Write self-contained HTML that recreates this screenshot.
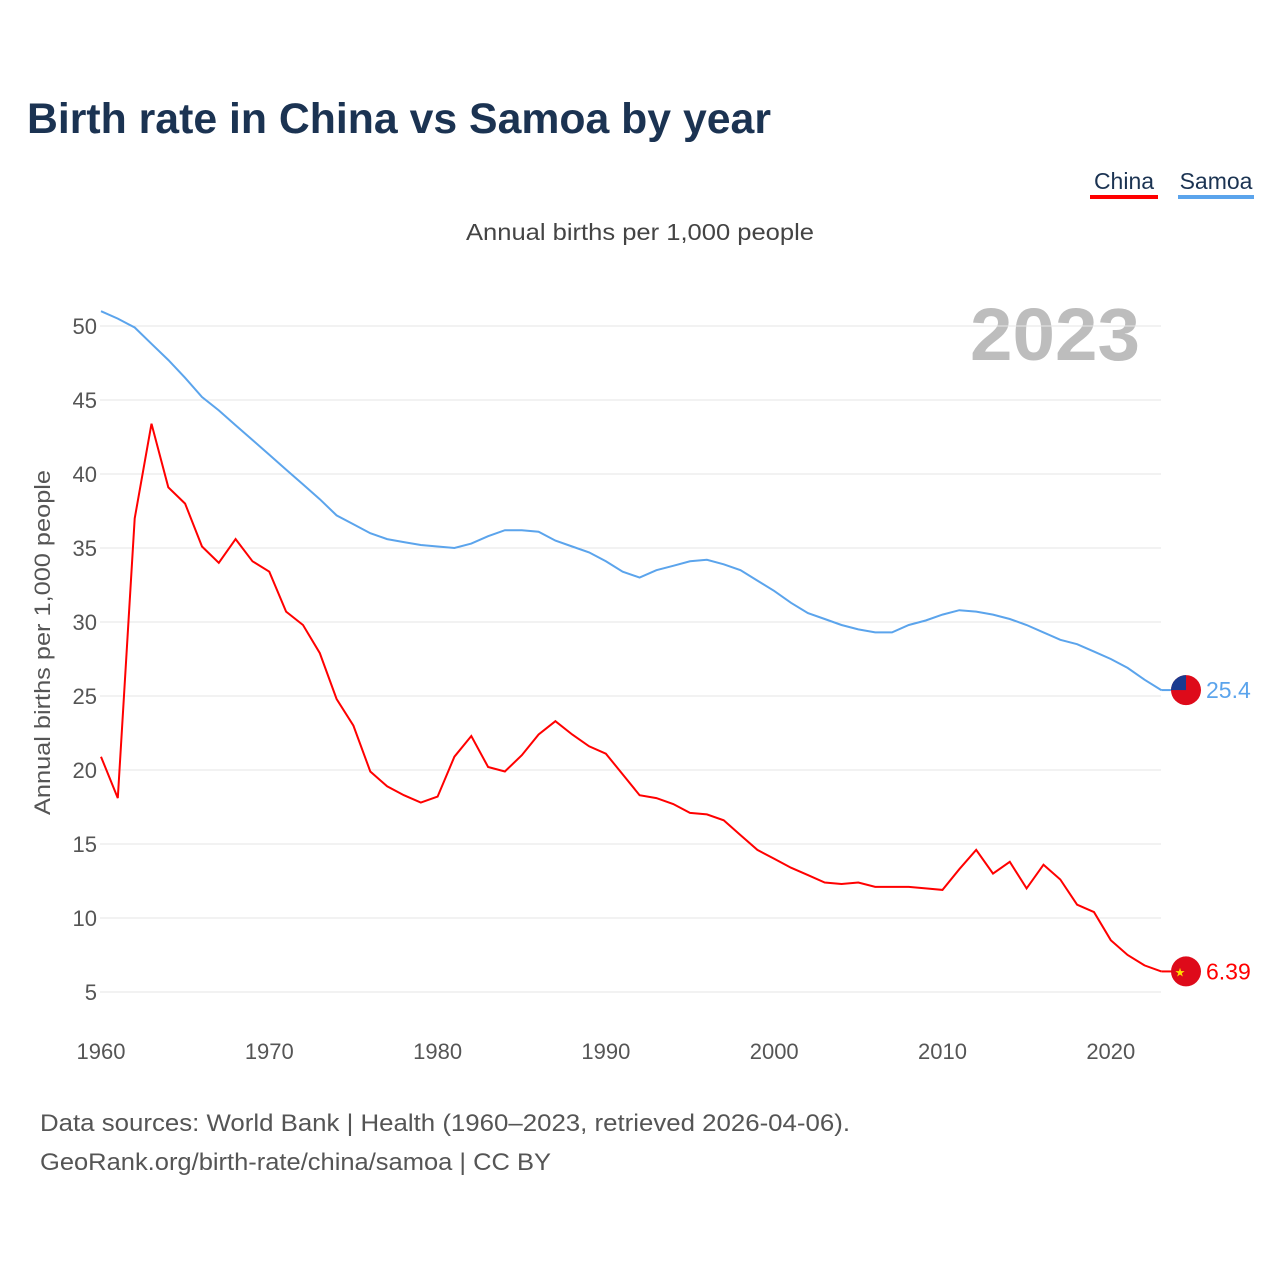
<!DOCTYPE html>
<html><head><meta charset="utf-8"><style>
body{margin:0;background:#fff;font-family:"Liberation Sans",sans-serif;}
</style></head><body>
<svg width="1280" height="1280" viewBox="0 0 1280 1280" xmlns="http://www.w3.org/2000/svg">
<defs><clipPath id="flagclip"><circle cx="1186" cy="0" r="15" id="fc"/></clipPath></defs>
<text x="27" y="133" font-size="43" font-weight="bold" fill="#1b3352" textLength="744" lengthAdjust="spacingAndGlyphs">Birth rate in China vs Samoa by year</text>
<g>
<text x="1124" y="189" font-size="23" fill="#1b3352" text-anchor="middle">China</text>
<rect x="1090" y="195" width="68" height="4" fill="#ff0000"/>
<text x="1216" y="189" font-size="23" fill="#1b3352" text-anchor="middle">Samoa</text>
<rect x="1178" y="195" width="76" height="4" fill="#5ba4ec"/>
</g>
<text x="466" y="240" font-size="23" fill="#444" textLength="348" lengthAdjust="spacingAndGlyphs">Annual births per 1,000 people</text>
<text x="970" y="360" font-size="74" font-weight="bold" fill="#bdbdbd" textLength="170" lengthAdjust="spacingAndGlyphs">2023</text>
<text transform="translate(50,815) rotate(-90)" font-size="22" fill="#555" textLength="345" lengthAdjust="spacingAndGlyphs">Annual births per 1,000 people</text>
<g id="grid"></g><g id="ticks"></g><g id="lines"></g><g id="ends"></g>
<text x="40" y="1131" font-size="24" fill="#555" textLength="810" lengthAdjust="spacingAndGlyphs">Data sources: World Bank | Health (1960–2023, retrieved 2026-04-06).</text>
<text x="40" y="1170" font-size="24" fill="#555" textLength="511" lengthAdjust="spacingAndGlyphs">GeoRank.org/birth-rate/china/samoa | CC BY</text>
</svg>
<script>
const years=[];for(let y=1960;y<=2023;y++)years.push(y);
const china=[20.9,18.1,37.0,43.4,39.1,38.0,35.1,34.0,35.6,34.1,33.4,30.7,29.8,27.9,24.8,23.0,19.9,18.9,18.3,17.8,18.2,20.9,22.3,20.2,19.9,21.0,22.4,23.3,22.4,21.6,21.1,19.7,18.3,18.1,17.7,17.1,17.0,16.6,15.6,14.6,14.0,13.4,12.9,12.4,12.3,12.4,12.1,12.1,12.1,12.0,11.9,13.3,14.6,13.0,13.8,12.0,13.6,12.6,10.9,10.4,8.5,7.5,6.8,6.39];
const samoa=[51.0,50.5,49.9,48.8,47.7,46.5,45.2,44.3,43.3,42.3,41.3,40.3,39.3,38.3,37.2,36.6,36.0,35.6,35.4,35.2,35.1,35.0,35.3,35.8,36.2,36.2,36.1,35.5,35.1,34.7,34.1,33.4,33.0,33.5,33.8,34.1,34.2,33.9,33.5,32.8,32.1,31.3,30.6,30.2,29.8,29.5,29.3,29.3,29.8,30.1,30.5,30.8,30.7,30.5,30.2,29.8,29.3,28.8,28.5,28.0,27.5,26.9,26.1,25.4];
const yTicks=[5,10,15,20,25,30,35,40,45,50];
const xTicks=[1960,1970,1980,1990,2000,2010,2020];
const X=y=>101+(y-1960)*16.83;
const Y=v=>992-(v-5)*14.8;
const NS="http://www.w3.org/2000/svg";
function mk(t,a,p){const e=document.createElementNS(NS,t);for(const k in a)e.setAttribute(k,a[k]);p.appendChild(e);return e;}
const grid=document.getElementById('grid'),ticks=document.getElementById('ticks'),lines=document.getElementById('lines'),ends=document.getElementById('ends');
yTicks.forEach(v=>{
 const l=mk('line',{x1:100,x2:1161,y1:Y(v),y2:Y(v),stroke:'#e6e6e6','stroke-width':1},grid);
 
 
 const t=mk('text',{x:97,y:Y(v)+8,'font-size':22,fill:'#555','text-anchor':'end'},ticks);
 t.textContent=v;
 
 
});
xTicks.forEach(v=>{
 const t=mk('text',{x:X(v),y:1059,'font-size':22,fill:'#555','text-anchor':'middle'},ticks);
 t.textContent=v;
 
 
});
function series(d,c,name,label){
 const p=mk('path',{d:d.map((v,i)=>(i?'L':'M')+X(years[i]).toFixed(1)+','+Y(v).toFixed(1)).join(''),fill:'none',stroke:c,'stroke-width':2},lines);
 
 
 const last=d[d.length-1],ly=Y(last);
 mk('line',{x1:X(2023),x2:1175,y1:ly,y2:ly,stroke:c,'stroke-width':2},ends);
 const f=mk('circle',{cx:1186,cy:ly,r:15,fill:'#de0a1a'},ends);
 
 
 if(name==='samoa'){document.getElementById('fc').setAttribute('cy',ly);mk('rect',{x:1170,y:ly-16,width:16,height:16,fill:'#1a3a8f','clip-path':'url(#flagclip)'},ends);}
 else{const s=mk('text',{x:1180,y:ly+5,'font-size':12,fill:'#ffde00','text-anchor':'middle'},ends);s.textContent='★';}
 const t=mk('text',{x:1206,y:ly+8,'font-size':23,fill:c},ends);
 t.textContent=label;
 
 
}
series(samoa,'#5ba4ec','samoa','25.4');
series(china,'#ff0000','china','6.39');
</script>
</body></html>
